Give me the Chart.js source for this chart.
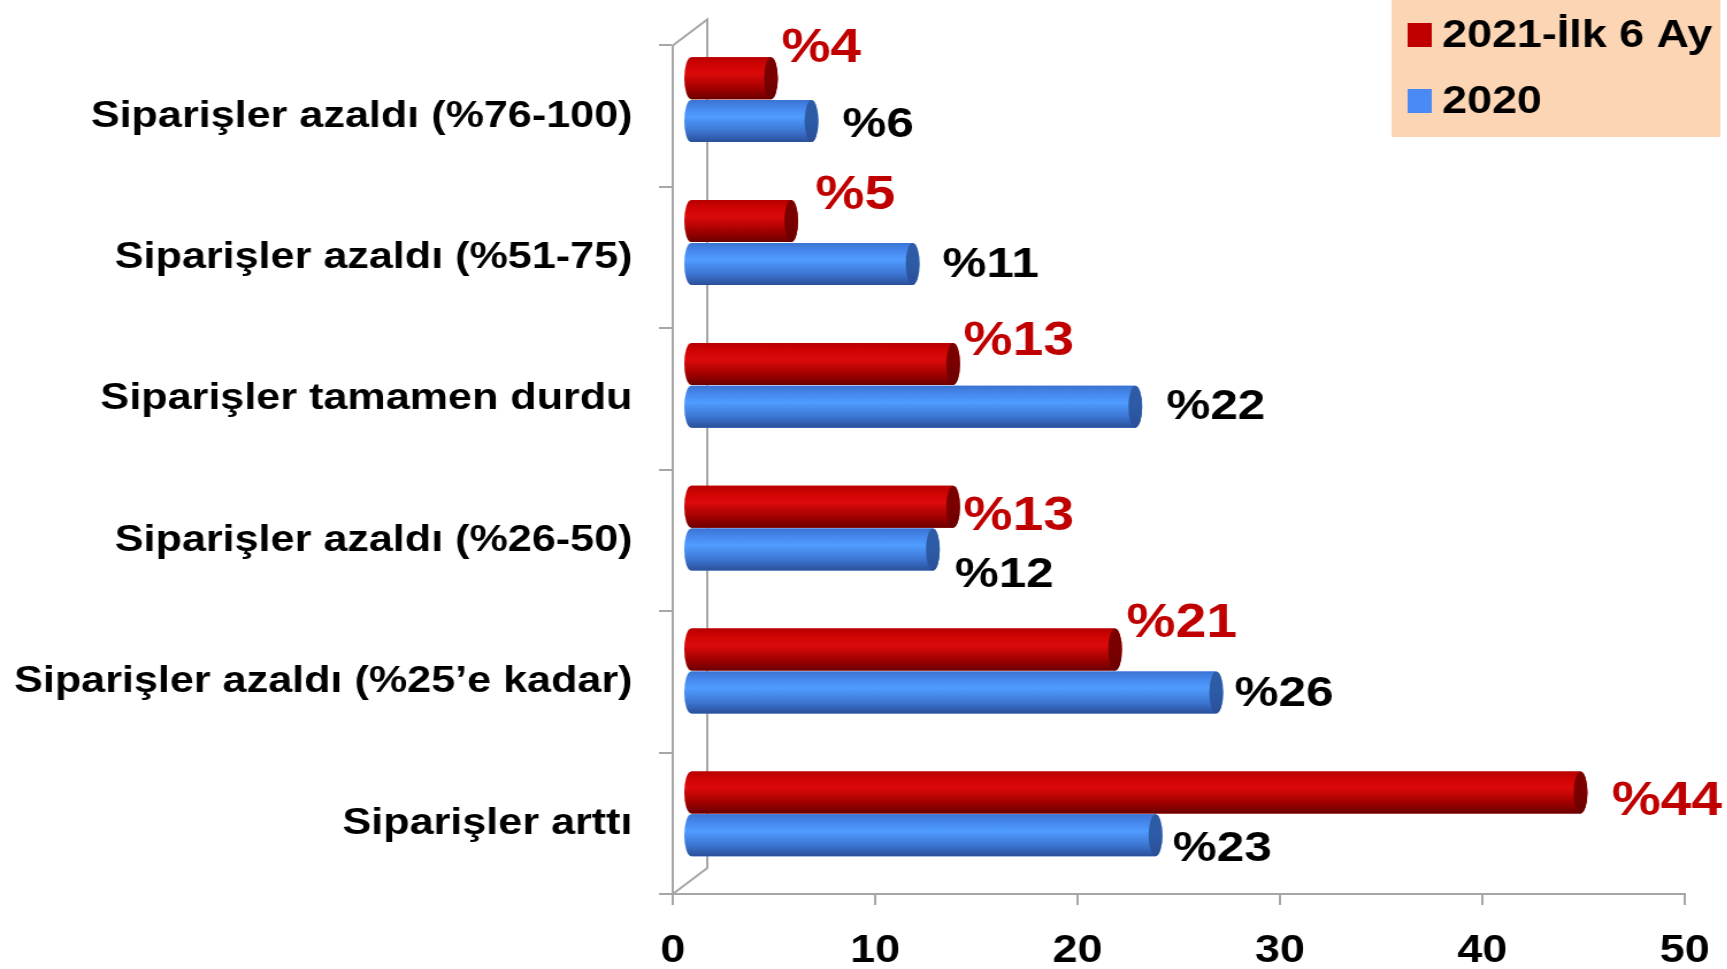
<!DOCTYPE html>
<html>
<head>
<meta charset="utf-8">
<title>Siparişler</title>
<script src="https://cdn.jsdelivr.net/npm/chart.js@4.4.1/dist/chart.umd.min.js"></script>
<style>
    html, body { margin: 0; padding: 0; background: #fff; overflow: hidden; }
    /* the source slide is stretched sideways, so the whole chart gets stretched too */
    #wrap { width: 1502px; height: 969px; transform: scaleX(1.15); transform-origin: 0 0; }
</style>
</head>
<body>
<div id="wrap"><canvas id="myChart"></canvas></div>
<script>
const categories = [
    "Siparişler azaldı (%76-100)",
    "Siparişler azaldı (%51-75)",
    "Siparişler tamamen durdu",
    "Siparişler azaldı (%26-50)",
    "Siparişler azaldı (%25’e kadar)",
    "Siparişler arttı",
];
const series2021 = [4, 5, 13, 13, 21, 44];
const series2020 = [6, 11, 22, 12, 26, 23];
const seriesNames = ["2021-İlk 6 Ay", "2020"];

const FONT = "'Liberation Sans', Arial, sans-serif";
const GRAY = "#a6a6a6";
const DEPTH = { x: 30, y: -26 }; // back wall offset
const MID = { x: 15, y: -13 };   // cylinders sit half way back

// label nudges per bar, relative to the bar end / bar centre
const labelNudge = [
    { dx: [9, 21, 9, 9, 10, 27], dy: [-29, -25, -22, 10, -26, 9], color: "#c00000", size: 48 },
    { dx: [27, 26, 27, 19, 16, 15], dy: [4, 1, 0, 25, 2, 14], color: "#000000", size: 43 },
];

const shades = [
    { stops: ["#b80000", "#d20404", "#dc0a0a", "#a00000", "#6b0000"], cap: "#7a0000", flat: "#c00000" },
    { stops: ["#3a74d2", "#4789ee", "#4f9cff", "#3c74d0", "#2a4f98"], cap: "#2d5ba6", flat: "#4a8af4" },
];

function drawCylinder(ctx, x0, x1, yc, h, shade) {
    const r = h / 2;
    const rx = 6;
    const g = ctx.createLinearGradient(0, yc - r, 0, yc + r);
    g.addColorStop(0, shade.stops[0]);
    g.addColorStop(0.2, shade.stops[1]);
    g.addColorStop(0.4, shade.stops[2]);
    g.addColorStop(0.75, shade.stops[3]);
    g.addColorStop(1, shade.stops[4]);
    ctx.fillStyle = g;
    ctx.beginPath();
    ctx.ellipse(x0, yc, rx, r, 0, Math.PI / 2, Math.PI * 1.5);
    ctx.lineTo(x1, yc - r);
    ctx.ellipse(x1, yc, rx, r, 0, -Math.PI / 2, Math.PI / 2);
    ctx.closePath();
    ctx.fill();

    const cg = ctx.createLinearGradient(0, yc - r, 0, yc + r);
    cg.addColorStop(0, shade.cap);
    cg.addColorStop(0.5, shade.cap);
    cg.addColorStop(1, shade.stops[4]);
    ctx.fillStyle = cg;
    ctx.beginPath();
    ctx.ellipse(x1, yc, rx, r, 0, 0, Math.PI * 2);
    ctx.fill();
}

const cylinderPlugin = {
    id: "cylinders",
    beforeDatasetsDraw(chart) {
        const { ctx, chartArea: a } = chart;
        // back wall edges of the 3d box
        ctx.save();
        ctx.strokeStyle = GRAY;
        ctx.lineWidth = 2;
        ctx.beginPath();
        ctx.moveTo(a.left, a.top);
        ctx.lineTo(a.left + DEPTH.x, a.top + DEPTH.y);
        ctx.lineTo(a.left + DEPTH.x, a.bottom + DEPTH.y);
        ctx.lineTo(a.left, a.bottom);
        ctx.stroke();
        ctx.restore();

        // mid plane sits a touch taller than the front plane
        const cy = (a.top + a.bottom) / 2;
        ctx.save();
        ctx.translate(MID.x, MID.y + cy);
        ctx.scale(1, 1.01);
        ctx.translate(0, -cy);
    },
    afterDatasetsDraw(chart) {
        const ctx = chart.ctx;
        chart.data.datasets.forEach((ds, di) => {
            const meta = chart.getDatasetMeta(di);
            meta.data.forEach((bar) => {
                const { x, y, base, height } = bar.getProps(["x", "y", "base", "height"], true);
                drawCylinder(ctx, base, x, y, height, shades[di]);
            });
        });

        chart.data.datasets.forEach((ds, di) => {
            const meta = chart.getDatasetMeta(di);
            const nudge = labelNudge[di];
            ctx.fillStyle = nudge.color;
            ctx.font = `bold ${nudge.size}px ${FONT}`;
            ctx.textAlign = "left";
            ctx.textBaseline = "middle";
            meta.data.forEach((bar, i) => {
                const { x, y } = bar.getProps(["x", "y"], true);
                ctx.fillText("%" + ds.data[i], x + nudge.dx[i], y + nudge.dy[i]);
            });
        });
        ctx.restore();
    },
};

const legendPlugin = {
    id: "boxLegend",
    afterDraw(chart) {
        const ctx = chart.ctx;
        ctx.save();
        ctx.fillStyle = "#fcd5b5";
        ctx.fillRect(1210, 0, 286, 137);
        const rows = [35, 101];
        chart.data.datasets.forEach((ds, di) => {
            ctx.fillStyle = shades[di].flat;
            ctx.fillRect(1224, rows[di] - 12, 21, 24);
            ctx.fillStyle = "#000";
            ctx.font = `bold 39px ${FONT}`;
            ctx.textAlign = "left";
            ctx.textBaseline = "middle";
            ctx.fillText(ds.label, 1254, rows[di] + 1);
        });
        ctx.restore();
    },
};

new Chart("myChart", {
    type: "bar",
    data: {
        labels: categories,
        datasets: [
            { label: seriesNames[0], data: series2021, backgroundColor: shades[0].flat },
            { label: seriesNames[1], data: series2020, backgroundColor: shades[1].flat },
        ],
    },
    options: {
        indexAxis: "y",
        responsive: true,
        maintainAspectRatio: false,
        animation: false,
        layout: { padding: { top: 42, right: 37, bottom: 0, left: 0 } },
        datasets: {
            bar: { categoryPercentage: 0.6, barPercentage: 0.98, borderWidth: 0, clip: false },
        },
        plugins: {
            legend: { display: false },
            tooltip: { enabled: false },
        },
        scales: {
            x: {
                min: 0,
                max: 50,
                ticks: {
                    stepSize: 10,
                    color: "#000",
                    font: { family: FONT, size: 39, weight: "bold" },
                    padding: 23,
                },
                grid: { drawOnChartArea: false, color: GRAY, lineWidth: 2, tickLength: 11 },
                border: { color: GRAY, width: 2 },
                afterFit: (s) => {
                    s.height = 75;
                    s.paddingLeft = 0;
                    s.paddingRight = 0;
                },
            },
            y: {
                ticks: {
                    color: "#000",
                    font: { family: FONT, size: 37.5, weight: "bold" },
                    padding: 23,
                },
                grid: { drawOnChartArea: false, color: GRAY, lineWidth: 2, tickLength: 12, offset: true },
                border: { color: GRAY, width: 2 },
                afterFit: (s) => { s.width = 585; },
            },
        },
    },
    plugins: [cylinderPlugin, legendPlugin],
});
</script>
</body>
</html>
